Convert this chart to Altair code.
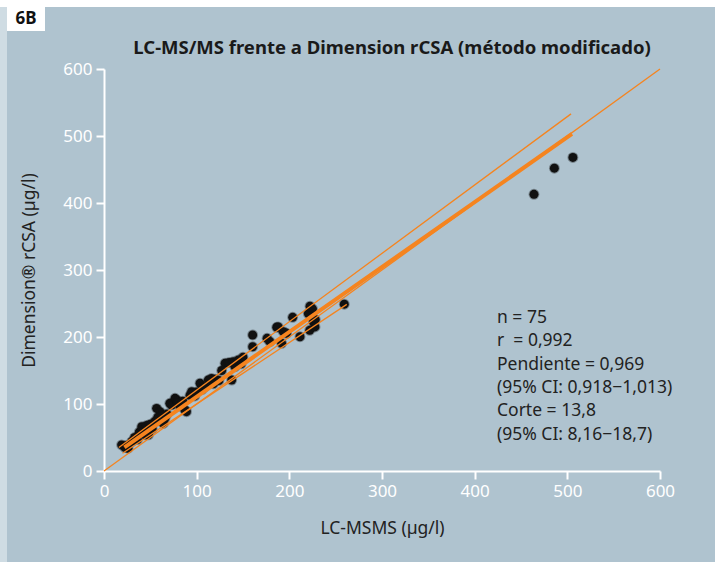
import altair as alt
import pandas as pd

# ---- data ----
lcmsms = [19, 22.7, 26, 24, 38, 40.7, 42.4, 44, 48, 46, 50, 52, 55, 56.8, 60.4, 64, 65.8, 68,
          71, 73, 76.6, 78.4, 80, 82, 87.4, 89, 92.8, 94.6, 98, 103.6, 106, 109, 112.6, 116,
          120, 124, 130.6, 135, 139.5, 145, 137.8, 141.4, 148, 160.4, 160.4, 179, 176, 186.4,
          188, 191.7, 193.5, 197, 203.6, 211.5, 220.5, 222.3, 225, 222, 227.7, 225.9, 228,
          259.3, 464, 486, 506, 33, 36, 58, 85, 100, 118, 127, 150, 62, 30]
dimension = [39, 35, 34, 38, 58, 66, 61, 54, 54, 68, 70, 63, 74, 93.5, 88.5, 71, 78.6, 85,
             101, 98.5, 108.5, 106, 103, 97, 91, 88.5, 113, 118.4, 112, 131, 122, 125.8, 135.8,
             138, 137, 135, 160.7, 162, 163, 165.7, 135.8, 155.7, 160, 203, 185.5, 193, 198,
             214.5, 215, 190.6, 208, 205.5, 229.4, 200.4, 235, 246, 242, 210, 215, 222.8, 226,
             249, 413, 452, 468, 50, 47, 80, 104, 118, 130, 150, 170, 83, 44]

# line end points (x, y)
identity_x = [0, 600]
identity_y = [0, 600]
regression_x = [22, 505]
regression_y = [35.1, 503.1]
upper_ci_x = [16, 504]
upper_ci_y = [35, 533]
lower_ci_x = [20, 262]
lower_ci_y = [26.5, 248.7]

stats_lines = ["n = 75", "r\u00a0 = 0,992", "Pendiente = 0,969", "(95% CI: 0,918\u22121,013)",
               "Corte = 13,8", "(95% CI: 8,16\u221218,7)"]

ticks = [0, 100, 200, 300, 400, 500, 600]

TITLE = "LC-MS/MS frente a Dimension rCSA (método modificado)"
PANEL = "#afc3cf"
ORANGE = "#f5841f"
FONT = "Noto Sans"

pts = pd.DataFrame({"x": lcmsms, "y": dimension})

xscale = alt.Scale(domain=[0, 600], nice=False, zero=False)
yscale = alt.Scale(domain=[0, 600], nice=False, zero=False)

W, H = 556, 402

base_points = alt.Chart(pts).mark_circle(
    size=80, color="#111111", opacity=1, stroke="#111111", strokeOpacity=0.35, strokeWidth=2
).encode(
    x=alt.X("x:Q", scale=xscale,
            axis=alt.Axis(values=ticks, title="LC-MSMS (µg/l)", titlePadding=20)),
    y=alt.Y("y:Q", scale=yscale,
            axis=alt.Axis(values=ticks, title="Dimension® rCSA (µg/l)", titlePadding=24)),
)


def line_layer(xs, ys, width):
    df = pd.DataFrame({"x": xs, "y": ys})
    return alt.Chart(df).mark_line(color=ORANGE, strokeWidth=width, clip=False).encode(
        x=alt.X("x:Q", scale=xscale), y=alt.Y("y:Q", scale=yscale))


lines = [
    line_layer(identity_x, identity_y, 1.3),
    line_layer(upper_ci_x, upper_ci_y, 1.3),
    line_layer(lower_ci_x, lower_ci_y, 1.3),
    line_layer(regression_x, regression_y, 4),
]

dummy = pd.DataFrame({"a": [0]})

# decorative strips: white top band, lighter left band, white "6B" box
top_strip = alt.Chart(dummy).mark_rect(color="white").encode(
    x=alt.value(-104), x2=alt.value(W + 60), y=alt.value(-69), y2=alt.value(-62))
left_strip = alt.Chart(dummy).mark_rect(color="#cfdce3").encode(
    x=alt.value(-104), x2=alt.value(-97), y=alt.value(-62), y2=alt.value(H + 100))
label_box = alt.Chart(dummy).mark_rect(color="white").encode(
    x=alt.value(-97), x2=alt.value(-59), y=alt.value(-62), y2=alt.value(-38))
label_text = alt.Chart(dummy).mark_text(
    text="6B", font=FONT, fontSize=17, fontWeight="bold", color="#111111",
    align="center", baseline="middle").encode(x=alt.value(-78), y=alt.value(-50))

title_text = alt.Chart(dummy).mark_text(
    text=TITLE, font=FONT, fontSize=18.5, fontWeight="bold", color="#1a1a1a",
    align="center", baseline="middle").encode(x=alt.value(288), y=alt.value(-21))

stat_layers = []
for i, s in enumerate(stats_lines):
    stat_layers.append(
        alt.Chart(dummy).mark_text(text=s, font=FONT, fontSize=17.5, color="#222222",
                                   align="left", baseline="middle").encode(
            x=alt.value(393), y=alt.value(249 + 23.3 * i)))

chart = alt.layer(
    top_strip, left_strip, label_box, label_text, title_text,
    base_points, *lines, *stat_layers
).properties(
    width=W, height=H,
    padding={"left": 104, "top": 69, "right": 55, "bottom": 91},
    autosize=alt.AutoSizeParams(type="none"),
    background=PANEL,
).configure_view(
    stroke=None, fill=PANEL
).configure_axis(
    grid=False,
    domainColor="white", domainWidth=2,
    tickColor="white", tickWidth=2, tickSize=8,
    labelColor="white", labelFont=FONT, labelFontSize=17, labelPadding=4,
    labelFlush=False,
    titleColor="#222222", titleFont=FONT, titleFontSize=17.5, titleFontWeight="normal",
)

chart.save("out.html", embed_options={"renderer": "svg", "actions": False})
